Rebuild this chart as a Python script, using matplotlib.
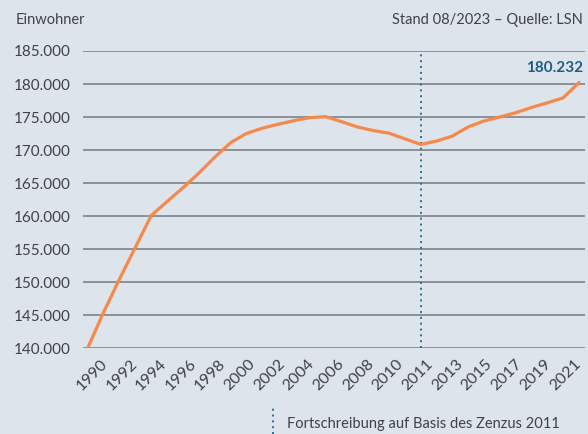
import numpy as np
import matplotlib.pyplot as plt
from matplotlib.ticker import FuncFormatter

plt.rcParams["font.family"] = ["Lato", "DejaVu Sans"]

# population (Einwohner) per year
years = list(range(1990, 2022))
einwohner = [
    140100, 145500, 150500, 155300, 160100, 162200, 164300, 166500,
    168900, 171100, 172500, 173300, 173900, 174450, 174900, 175050,
    174300, 173500, 172950, 172550, 171700, 170850, 171350, 172100,
    173500, 174400, 175000, 175650, 176450, 177150, 177900, 180232,
]

x_labels = ["1990", "1992", "1994", "1996", "1998", "2000", "2002", "2004",
            "2006", "2008", "2010", "2011", "2013", "2015", "2017", "2019", "2021"]
y_ticks = list(range(140000, 185001, 5000))

zensus_year = 2011
last_label = "180.232"

bg = "#dde4ec"
orange = "#f5894a"
blue = "#2a6f93"
text_col = "#3f4247"
grid_col = "#7d828a"

fig = plt.figure(figsize=(5.88, 4.34), dpi=100, facecolor=bg)
ax = fig.add_axes([0.141, 0.198, 0.854, 0.6845], facecolor=bg)

for v in y_ticks:
    ax.axhline(v, color=grid_col, lw=1.2, zorder=1)

ax.axvline(zensus_year, color=blue, lw=1.4, ls=(0, (1, 2)), zorder=2)

ax.plot(years, einwohner, color=orange, lw=2.3, solid_capstyle="round",
        solid_joinstyle="round", zorder=3)

ax.set_xlim(1989.68, 2021.38)
ax.set_ylim(140000, 185000)

ax.set_yticks(y_ticks)
ax.yaxis.set_major_formatter(FuncFormatter(lambda v, p: f"{v:,.0f}".replace(",", ".")))

# labels sit evenly spaced along the axis
ax.set_xticks(np.linspace(1990.78, 2020.66, len(x_labels)))
ax.set_xticklabels(x_labels, rotation=45, ha="right", rotation_mode="anchor")

ax.tick_params(axis="y", length=0, pad=9, labelsize=11, labelcolor=text_col)
ax.tick_params(axis="x", length=0, pad=6, labelsize=11.5, labelcolor=text_col)

for s in ax.spines.values():
    s.set_visible(False)

ax.annotate(last_label, xy=(years[-1], einwohner[-1]), xytext=(583, 366),
            xycoords="data", textcoords="figure pixels", ha="right", va="center",
            fontsize=11, fontweight="bold", color="#1d5f82")

fig.text(16 / 588, 1 - 20 / 434, "Einwohner", ha="left", va="center",
         fontsize=10.5, color=text_col)
fig.text(583 / 588, 1 - 20 / 434, "Stand 08/2023 – Quelle: LSN", ha="right",
         va="center", fontsize=10.5, color=text_col)

# legend for the dotted line
fig.add_artist(plt.Line2D([273 / 588, 273 / 588], [0, 27 / 434], color=blue,
                          lw=1.4, ls=(0, (1, 2))))
fig.text(287 / 588, 10 / 434, "Fortschreibung auf Basis des Zenzus 2011",
         ha="left", va="center", fontsize=10.5, color=text_col)

fig.savefig("out.png", dpi=100, facecolor=bg)
